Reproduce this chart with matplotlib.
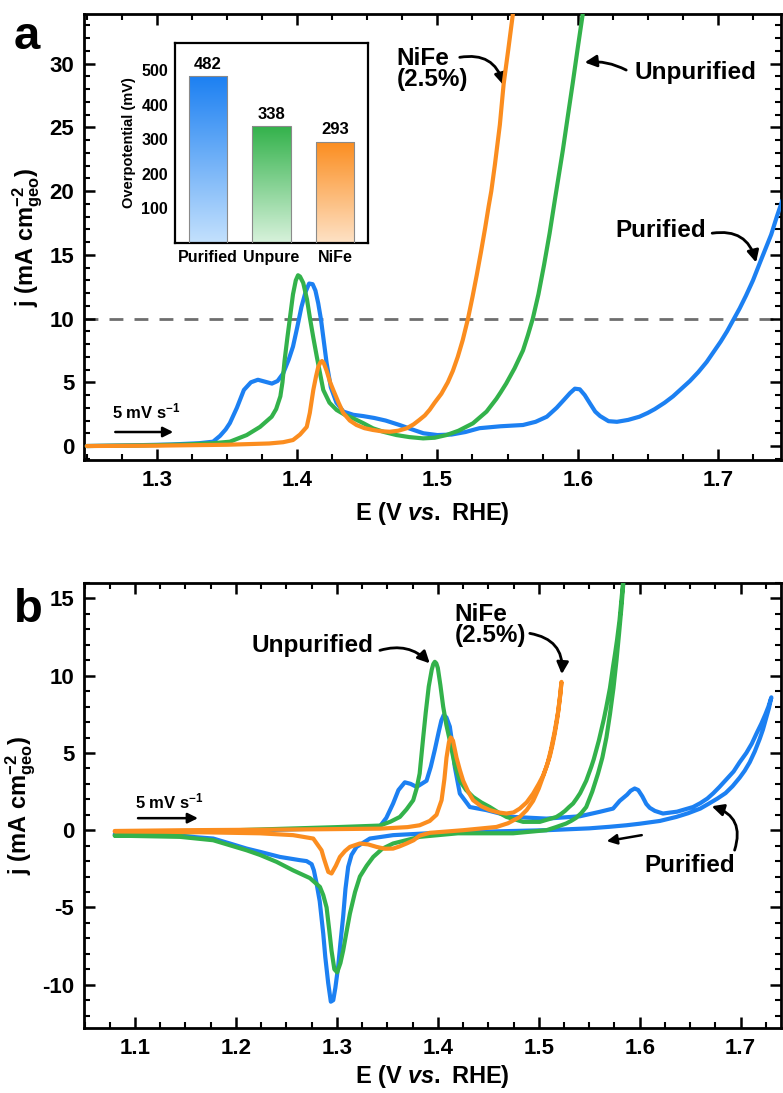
import numpy as np
import matplotlib
matplotlib.use("Agg")
import matplotlib.pyplot as plt
from matplotlib.ticker import MultipleLocator
from matplotlib.colors import LinearSegmentedColormap

plt.rcParams['font.family'] = ['Liberation Sans', 'DejaVu Sans']
plt.rcParams['font.weight'] = 'bold'
plt.rcParams['axes.labelweight'] = 'bold'
plt.rcParams['axes.unicode_minus'] = False
plt.rcParams['mathtext.fontset'] = 'custom'
plt.rcParams['mathtext.rm'] = 'Liberation Sans:bold'
plt.rcParams['mathtext.it'] = 'Liberation Sans:italic:bold'
plt.rcParams['mathtext.bf'] = 'Liberation Sans:bold'

BLUE = '#1c80f2'
GREEN = '#33b24b'
ORANGE = '#fb8d1f'

# ---- panel a: LSV (anodic sweep) ----
E_pur_a = [1.25, 1.28, 1.31, 1.33, 1.34, 1.345, 1.349, 1.352, 1.357, 1.362, 1.367, 1.372, 1.377,
           1.382, 1.386, 1.39, 1.394, 1.397, 1.400, 1.403, 1.406, 1.4085, 1.411, 1.413, 1.415,
           1.417, 1.419, 1.421, 1.424, 1.428, 1.433, 1.440, 1.447, 1.455, 1.463, 1.473, 1.482,
           1.490, 1.500, 1.510, 1.520, 1.530, 1.545, 1.561, 1.570, 1.578, 1.585, 1.590, 1.5945,
           1.598, 1.6015, 1.605, 1.609, 1.6125, 1.616, 1.622, 1.628, 1.636, 1.644, 1.650, 1.655,
           1.662, 1.668, 1.674, 1.680, 1.686, 1.692, 1.697, 1.702, 1.7065, 1.711, 1.7155, 1.720,
           1.725, 1.730, 1.734, 1.738, 1.742, 1.746]
j_pur_a = [0.0, 0.05, 0.12, 0.22, 0.34, 0.8, 1.3, 1.8, 3.0, 4.4, 5.0, 5.2, 5.05,
           4.9, 5.1, 5.7, 6.8, 7.8, 9.3, 10.9, 12.1, 12.75, 12.7, 12.2, 11.2,
           9.9, 8.2, 6.5, 4.6, 3.4, 2.7, 2.45, 2.35, 2.2, 2.0, 1.65, 1.3,
           1.0, 0.86, 0.9, 1.1, 1.4, 1.55, 1.65, 1.9, 2.3, 3.0, 3.6, 4.15,
           4.5, 4.45, 4.0, 3.3, 2.7, 2.35, 1.95, 1.9, 2.05, 2.3, 2.6, 2.9,
           3.4, 3.9, 4.5, 5.1, 5.8, 6.6, 7.4, 8.2, 9.0, 9.9, 10.8, 11.8,
           13.0, 14.4, 15.5, 16.6, 18.0, 19.3]

E_unp_a = [1.25, 1.29, 1.32, 1.34, 1.352, 1.364, 1.3735, 1.3818, 1.385, 1.388, 1.3895, 1.391,
           1.393, 1.395, 1.397, 1.399, 1.4006, 1.402, 1.4043, 1.407, 1.409, 1.4115, 1.414,
           1.4186, 1.423, 1.4281, 1.434, 1.44, 1.447, 1.454, 1.462, 1.4708, 1.48, 1.4898,
           1.498, 1.5064, 1.515, 1.5253, 1.535, 1.542, 1.545, 1.549, 1.552, 1.555, 1.558,
           1.561, 1.5645, 1.568, 1.572, 1.576, 1.580, 1.584, 1.5894, 1.593, 1.5965, 1.600,
           1.6036, 1.606]
j_unp_a = [0.0, 0.05, 0.12, 0.22, 0.34, 0.86, 1.5, 2.3, 2.9, 3.9, 5.0, 6.7,
           8.5, 10.2, 11.9, 13.0, 13.4, 13.3, 12.8, 11.5, 10.1, 8.5, 7.0,
           4.4, 3.4, 2.83, 2.45, 2.17, 1.8, 1.39, 1.1, 0.86, 0.7, 0.6,
           0.65, 0.86, 1.2, 1.78, 2.7, 3.7, 4.2, 4.9, 5.5, 6.1, 6.8,
           7.5, 8.7, 10.0, 11.9, 14.2, 16.7, 19.5, 23.2, 25.9, 28.5, 31.2,
           33.9, 36.0]

E_nife_a = [1.25, 1.30, 1.35, 1.38, 1.39, 1.397, 1.402, 1.4068, 1.409, 1.4115, 1.4135, 1.415,
            1.4165, 1.4177, 1.419, 1.421, 1.4235, 1.4257, 1.4295, 1.4328, 1.4375, 1.4423,
            1.448, 1.454, 1.46, 1.466, 1.472, 1.478, 1.483, 1.487, 1.491, 1.4945, 1.498,
            1.5028, 1.5074, 1.511, 1.5145, 1.518, 1.5218, 1.525, 1.528, 1.531, 1.534, 1.5365,
            1.5384, 1.541, 1.5445, 1.5472, 1.5505, 1.5538, 1.556]
j_nife_a = [0.0, 0.03, 0.1, 0.2, 0.3, 0.47, 0.9, 1.5, 2.6, 4.4, 5.5, 6.2,
            6.55, 6.67, 6.5, 5.9, 5.0, 4.4, 3.4, 2.6, 2.0, 1.65,
            1.4, 1.26, 1.16, 1.12, 1.2, 1.39, 1.7, 2.04, 2.4, 2.85, 3.4,
            4.1, 5.0, 5.9, 7.0, 8.3, 10.0, 11.7, 13.4, 15.2, 17.1, 18.8,
            20.0, 22.1, 25.2, 28.4, 31.1, 33.9, 36.0]

# inset: overpotential at 10 mA cm-2
samples = ['Purified', 'Unpure', 'NiFe']
overpotential = [482, 338, 293]

# ---- panel b: CV ----
E_pur_b = [1.08, 1.12, 1.16, 1.20, 1.24, 1.28, 1.31, 1.33, 1.3426, 1.349, 1.3557, 1.361,
           1.3673, 1.373, 1.379, 1.3888, 1.393, 1.397, 1.401, 1.4035, 1.4058, 1.4085, 1.4119,
           1.4145, 1.4168, 1.4218, 1.4317, 1.4482, 1.4746, 1.5076, 1.5406, 1.5604, 1.5736,
           1.5802, 1.5875, 1.591, 1.595, 1.5985, 1.6025, 1.6065, 1.6099, 1.615, 1.623, 1.637,
           1.6528, 1.66, 1.667, 1.673, 1.679, 1.686, 1.693, 1.699, 1.7056, 1.711, 1.716,
           1.7205, 1.7245, 1.7275, 1.7304,
           1.728, 1.725, 1.722, 1.7188, 1.714, 1.709, 1.704, 1.699, 1.692, 1.685, 1.677,
           1.6693, 1.66, 1.648, 1.6363, 1.62, 1.60, 1.5868, 1.57, 1.55, 1.5076, 1.4416,
           1.39, 1.3557, 1.3327, 1.3195, 1.3145, 1.3112, 1.3085, 1.3062, 1.3035, 1.3013,
           1.2985, 1.2964, 1.294, 1.2914, 1.2885, 1.2865, 1.283, 1.2799, 1.2772, 1.275,
           1.27, 1.2634, 1.2436, 1.2238, 1.2106, 1.194, 1.1775, 1.15, 1.128, 1.08]
j_pur_b = [-0.3, -0.2, -0.1, -0.03, 0.03, 0.1, 0.15, 0.2, 0.25, 0.8, 1.73, 2.6,
           3.1, 3.0, 2.8, 3.2, 4.1, 5.2, 6.4, 7.1, 7.45, 7.3, 6.7,
           5.5, 4.1, 2.37, 1.5, 1.3, 0.86, 0.75, 0.9, 1.19, 1.4,
           1.9, 2.3, 2.55, 2.7, 2.6, 2.2, 1.7, 1.45, 1.25, 1.08, 1.2,
           1.5, 1.75, 2.05, 2.4, 2.8, 3.3, 3.8, 4.4, 5.0, 5.6, 6.3,
           6.9, 7.5, 8.0, 8.6,
           7.9, 7.2, 6.5, 5.9, 5.1, 4.4, 3.85, 3.4, 2.85, 2.4, 2.05,
           1.75, 1.4, 1.1, 0.86, 0.6, 0.42, 0.32, 0.22, 0.12, 0.0, -0.1,
           -0.2, -0.32, -0.54, -1.08, -1.6, -2.37, -3.8, -5.6, -7.3, -8.8,
           -10.2, -11.0, -11.1, -9.9, -8.2, -6.7, -4.6, -3.45, -2.6, -2.2,
           -2.0, -1.94, -1.73, -1.4, -1.19, -0.86, -0.54, -0.4, -0.32, -0.25]

E_unp_b = [1.08, 1.12, 1.16, 1.20, 1.25, 1.30, 1.3426, 1.353, 1.3624, 1.369, 1.3756, 1.379,
           1.382, 1.384, 1.3855, 1.388, 1.391, 1.394, 1.3955, 1.397, 1.3985, 1.400, 1.4025,
           1.4053, 1.4085, 1.4119, 1.4165, 1.4218, 1.428, 1.435, 1.443, 1.4515, 1.46, 1.468,
           1.4845, 1.501, 1.5175, 1.522, 1.526, 1.530, 1.534, 1.5375, 1.541, 1.544, 1.547,
           1.5495, 1.552, 1.5545, 1.557, 1.5595, 1.562, 1.5645, 1.567, 1.5705, 1.5736, 1.5755,
           1.5775, 1.580, 1.582, 1.584, 1.586,
           1.584, 1.582, 1.5795, 1.577, 1.574, 1.5705, 1.567, 1.563, 1.5587, 1.553, 1.547,
           1.542, 1.537, 1.532, 1.527, 1.517, 1.5076, 1.4746, 1.42, 1.382, 1.3557, 1.345,
           1.336, 1.3295, 1.3228, 1.318, 1.3129, 1.3095, 1.3062, 1.3035, 1.3003, 1.2975,
           1.2947, 1.2925, 1.2898, 1.2865, 1.2832, 1.2733, 1.2567, 1.2403, 1.2238, 1.2106,
           1.1775, 1.1446, 1.08]
j_unp_b = [-0.35, -0.25, -0.12, 0.0, 0.1, 0.2, 0.3, 0.55, 0.86, 1.35, 1.94, 2.7,
           3.67, 5.0, 6.0, 7.6, 9.3, 10.4, 10.75, 10.9, 10.8, 10.5, 9.4,
           8.0, 6.8, 5.8, 4.3, 3.2, 2.6, 2.15, 1.8, 1.5, 1.15, 0.86,
           0.54, 0.54, 0.86, 1.05, 1.25, 1.5, 1.73, 2.05, 2.4, 2.8, 3.2,
           3.65, 4.1, 4.6, 5.2, 5.8, 6.5, 7.2, 8.0, 9.2, 10.6, 11.4,
           12.3, 13.6, 15.0, 16.4, 18.0,
           16.2, 14.5, 12.7, 11.0, 9.2, 7.5, 6.0, 4.7, 3.67, 2.5, 1.5,
           1.1, 0.8, 0.6, 0.43, 0.2, 0.0, -0.2, -0.2, -0.43, -0.86, -1.2,
           -1.73, -2.3, -3.0, -4.0, -5.4, -6.6, -7.8, -8.6, -9.2, -9.0,
           -7.8, -6.5, -5.0, -4.2, -3.67, -3.1, -2.6, -2.05, -1.6, -1.3,
           -0.65, -0.43, -0.35]

E_nife_b = [1.08, 1.15, 1.22, 1.28, 1.3426, 1.37, 1.382, 1.392, 1.3987, 1.4037, 1.4065, 1.4086,
            1.411, 1.4129, 1.415, 1.4185, 1.4218, 1.4251, 1.43, 1.435, 1.443, 1.4515, 1.46,
            1.468, 1.475, 1.4812, 1.488, 1.4944, 1.5, 1.504, 1.5076, 1.511, 1.5135, 1.5158,
            1.518, 1.5195, 1.521, 1.5225,
            1.5215, 1.519, 1.5155, 1.512, 1.509, 1.5055, 1.5, 1.4944, 1.488, 1.4812, 1.4695,
            1.4581, 1.4251, 1.392, 1.382, 1.376, 1.369, 1.362, 1.3557, 1.3475, 1.3393, 1.331,
            1.3228, 1.3129, 1.308, 1.303, 1.299, 1.2947, 1.2915, 1.2898, 1.287, 1.2848,
            1.2766, 1.2567, 1.2238, 1.18, 1.13, 1.08]
j_nife_b = [-0.05, 0.0, 0.03, 0.06, 0.1, 0.2, 0.32, 0.6, 1.0, 1.94, 3.3, 4.7,
            5.7, 6.0, 5.8, 4.7, 3.9, 3.2, 2.5, 1.94, 1.55, 1.3, 1.15,
            1.08, 1.15, 1.4, 1.8, 2.37, 3.0, 3.5, 4.1, 4.8, 5.5, 6.25,
            7.1, 7.8, 8.6, 9.6,
            8.9, 7.6, 6.3, 5.2, 4.4, 3.7, 2.7, 1.9, 1.3, 0.86, 0.45,
            0.21, 0.0, -0.17, -0.35, -0.65, -0.86, -1.05, -1.19, -1.2, -1.08, -0.92,
            -0.86, -1.08, -1.35, -1.73, -2.3, -2.8, -2.7, -2.37, -1.8, -1.3,
            -0.54, -0.32, -0.2, -0.15, -0.1, -0.08]

TICK_FS = 16
LABEL_FS = 17
ANN_FS = 17.5
LW = 3.0


def style_axes(ax):
    for s in ax.spines.values():
        s.set_linewidth(2.0)
    ax.tick_params(which='both', direction='in', top=True, right=True,
                   labelsize=TICK_FS, width=1.8)
    ax.tick_params(which='major', length=8, pad=7)
    ax.tick_params(which='minor', length=4.5, width=1.5)


def curved_arrow(ax, xy_from, xy_to, rad):
    ax.annotate('', xy=xy_to, xytext=xy_from,
                arrowprops=dict(arrowstyle='-|>,head_length=0.7,head_width=0.35',
                                color='black', lw=2.0,
                                connectionstyle='arc3,rad=%s' % rad,
                                shrinkA=0, shrinkB=0))


def draw(ax, E, j, color, z):
    ax.plot(E, j, color=color, lw=LW, zorder=z,
            solid_joinstyle='round', solid_capstyle='round')


fig = plt.figure(figsize=(7.83, 10.93), dpi=100)

# ================= panel a =================
ax1 = fig.add_axes([0.1073, 0.5791, 0.8902, 0.4081])
ax1.axhline(10, color='#6e6e6e', lw=2.0, dashes=(5, 4), zorder=1)
draw(ax1, E_pur_a, j_pur_a, BLUE, 3)
draw(ax1, E_unp_a, j_unp_a, GREEN, 4)
draw(ax1, E_nife_a, j_nife_a, ORANGE, 5)
ax1.set_xlim(1.248, 1.745)
ax1.set_ylim(-1.1, 33.9)
ax1.xaxis.set_major_locator(MultipleLocator(0.1))
ax1.xaxis.set_minor_locator(MultipleLocator(0.025))
ax1.yaxis.set_major_locator(MultipleLocator(5))
ax1.yaxis.set_minor_locator(MultipleLocator(1))
style_axes(ax1)
ax1.set_xlabel(r'E (V $\mathit{vs.}$ RHE)', fontsize=LABEL_FS, labelpad=7)
ax1.set_ylabel(r'j (mA $\mathrm{cm}^{-2}_{\mathrm{geo}}$)', fontsize=LABEL_FS, labelpad=3)

ax1.text(1.471, 29.6, 'NiFe\n(2.5%)', fontsize=ANN_FS, ha='left', va='center',
         linespacing=0.9)
curved_arrow(ax1, (1.5159, 30.5), (1.5472, 28.3), -0.45)
ax1.text(1.6405, 29.3, 'Unpurified', fontsize=ANN_FS, ha='left', va='center')
curved_arrow(ax1, (1.6346, 29.5), (1.6050, 30.1), 0.15)
ax1.text(1.6269, 16.95, 'Purified', fontsize=ANN_FS, ha='left', va='center')
curved_arrow(ax1, (1.6959, 16.7), (1.7272, 14.4), -0.45)
ax1.text(1.268, 2.7, r'5 mV s$^{-1}$', fontsize=12, ha='left', va='center')
ax1.annotate('', xy=(1.3116, 1.1), xytext=(1.2703, 1.1),
             arrowprops=dict(arrowstyle='-|>,head_length=0.6,head_width=0.3',
                             color='black', lw=1.8, shrinkA=0, shrinkB=0))

# inset bar chart
axi = fig.add_axes([0.2235, 0.7777, 0.2465, 0.183])
xpos = np.arange(len(samples))
tops = [BLUE, GREEN, ORANGE]
bottoms = ['#c4e1fd', '#d8f2dc', '#fee2c6']
bars = axi.bar(xpos, overpotential, width=0.6, color='none',
               edgecolor='#8a8a8a', linewidth=0.8, zorder=3)
grad = np.linspace(0, 1, 256).reshape(-1, 1)
for b, ct, cb in zip(bars, tops, bottoms):
    cmap = LinearSegmentedColormap.from_list('g', [cb, ct])
    x0 = b.get_x()
    im = axi.imshow(grad, cmap=cmap, origin='lower', aspect='auto',
                    extent=[x0, x0 + b.get_width(), 0, b.get_height()], zorder=2)
    im.set_clip_path(b)
for x, v in zip(xpos, overpotential):
    axi.text(x, v + 12, str(v), ha='center', va='bottom', fontsize=12)
axi.set_xlim(-0.52, 2.52)
axi.set_ylim(0, 578)
axi.set_yticks([100, 200, 300, 400, 500])
axi.set_xticks(xpos)
axi.set_xticklabels(samples)
axi.tick_params(length=0, labelsize=11.5, pad=5)
for s in axi.spines.values():
    s.set_linewidth(1.6)
axi.set_ylabel('Overpotential (mV)', fontsize=10.5, labelpad=4)

fig.text(0.018, 0.955, 'a', fontsize=34, fontweight='bold')

# ================= panel b =================
ax2 = fig.add_axes([0.1073, 0.0595, 0.8902, 0.4071])
draw(ax2, E_pur_b, j_pur_b, BLUE, 3)
draw(ax2, E_unp_b, j_unp_b, GREEN, 4)
draw(ax2, E_nife_b, j_nife_b, ORANGE, 5)
ax2.set_xlim(1.0495, 1.74)
ax2.set_ylim(-12.8, 16.0)
ax2.xaxis.set_major_locator(MultipleLocator(0.1))
ax2.xaxis.set_minor_locator(MultipleLocator(0.025))
ax2.yaxis.set_major_locator(MultipleLocator(5))
ax2.yaxis.set_minor_locator(MultipleLocator(1))
style_axes(ax2)
ax2.set_xlabel(r'E (V $\mathit{vs.}$ RHE)', fontsize=LABEL_FS, labelpad=3)
ax2.set_ylabel(r'j (mA $\mathrm{cm}^{-2}_{\mathrm{geo}}$)', fontsize=LABEL_FS, labelpad=3)

ax2.text(1.1, 1.85, r'5 mV s$^{-1}$', fontsize=12, ha='left', va='center')
ax2.annotate('', xy=(1.1624, 0.78), xytext=(1.103, 0.78),
             arrowprops=dict(arrowstyle='-|>,head_length=0.6,head_width=0.3',
                             color='black', lw=1.8, shrinkA=0, shrinkB=0))
ax2.text(1.2158, 11.97, 'Unpurified', fontsize=ANN_FS, ha='left', va='center')
curved_arrow(ax2, (1.3426, 11.64), (1.392, 10.8), -0.3)
ax2.text(1.4168, 13.26, 'NiFe\n(2.5%)', fontsize=ANN_FS, ha='left', va='center',
         linespacing=0.9)
curved_arrow(ax2, (1.4911, 12.74), (1.5228, 10.1), -0.45)
ax2.text(1.605, -2.26, 'Purified', fontsize=ANN_FS, ha='left', va='center')
curved_arrow(ax2, (1.694, -1.29), (1.6713, 1.55), 0.5)
ax2.annotate('', xy=(1.5673, -0.71), xytext=(1.602, -0.32),
             arrowprops=dict(arrowstyle='-|>,head_length=0.6,head_width=0.3',
                             color='black', lw=1.8, shrinkA=0, shrinkB=0))

fig.text(0.018, 0.431, 'b', fontsize=34, fontweight='bold')

fig.savefig('out.png', dpi=100)
